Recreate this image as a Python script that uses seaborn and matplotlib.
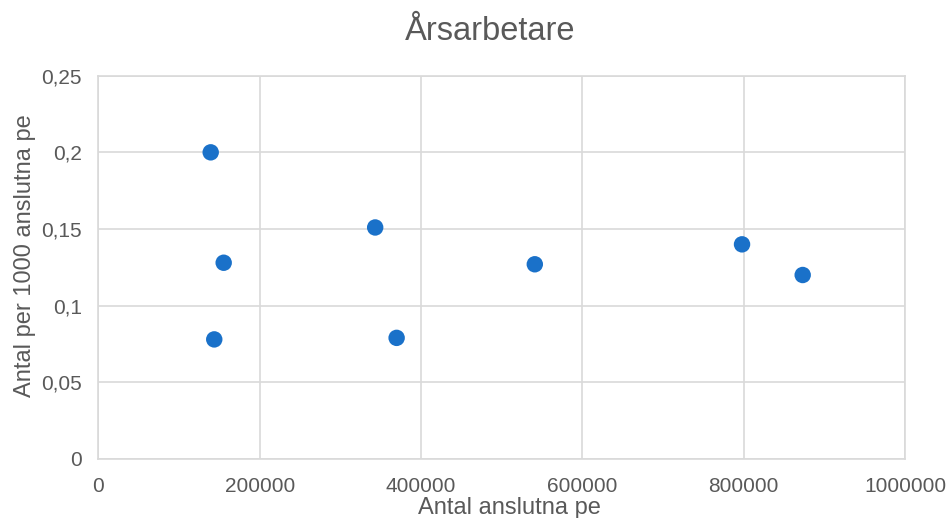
import matplotlib
matplotlib.use("Agg")
import matplotlib.pyplot as plt
import matplotlib.ticker as mticker
import pandas as pd
import seaborn as sns

# Anslutna pe och årsarbetare per 1000 anslutna pe
anslutna_pe = [139300, 155400, 143700, 343200, 369800, 541100, 798000, 873200]
per_1000_pe = [0.200, 0.128, 0.078, 0.151, 0.079, 0.127, 0.140, 0.120]

x_ticks = [0, 200000, 400000, 600000, 800000, 1000000]
y_ticks = [0, 0.05, 0.10, 0.15, 0.20, 0.25]

df = pd.DataFrame({"anslutna": anslutna_pe, "per1000": per_1000_pe})

sns.set_theme(style="white")
plt.rcParams["font.family"] = ["Liberation Sans", "DejaVu Sans"]

text_color = "#595959"
grid_color = "#d9d9d9"
dot_color = "#1a71c9"

fig = plt.figure(figsize=(9.51, 5.18), dpi=100)
ax = fig.add_axes([0.1034, 0.1139, 0.8482, 0.7400])

sns.scatterplot(data=df, x="anslutna", y="per1000", ax=ax, s=140,
                color=dot_color, edgecolor="none", zorder=3)

ax.set_xlim(0, 1000000)
ax.set_ylim(0, 0.25)
ax.set_xticks(x_ticks)
ax.set_yticks(y_ticks)
ax.xaxis.set_major_formatter(mticker.FuncFormatter(lambda v, p: f"{int(round(v))}"))
ax.yaxis.set_major_formatter(
    mticker.FuncFormatter(lambda v, p: ("%g" % round(v, 2)).replace(".", ",")))

ax.grid(True, color=grid_color, linewidth=1.2)
ax.set_axisbelow(True)
for sp in ax.spines.values():
    sp.set_color(grid_color)
    sp.set_linewidth(1.2)

ax.tick_params(axis="both", length=0, labelsize=15, colors=text_color)
ax.tick_params(axis="x", pad=13)
ax.tick_params(axis="y", pad=12)

ax.set_xlabel("Antal anslutna pe", fontsize=17, color=text_color)
ax.set_ylabel("Antal per 1000 anslutna pe", fontsize=17, color=text_color)
ax.xaxis.set_label_coords(0.51, -0.098)
ax.yaxis.set_label_coords(-0.077, 0.53)

fig.text(0.515, 0.94, "Årsarbetare", ha="center", va="center",
         fontsize=23.5, color=text_color)

fig.savefig("out.png", dpi=100)
